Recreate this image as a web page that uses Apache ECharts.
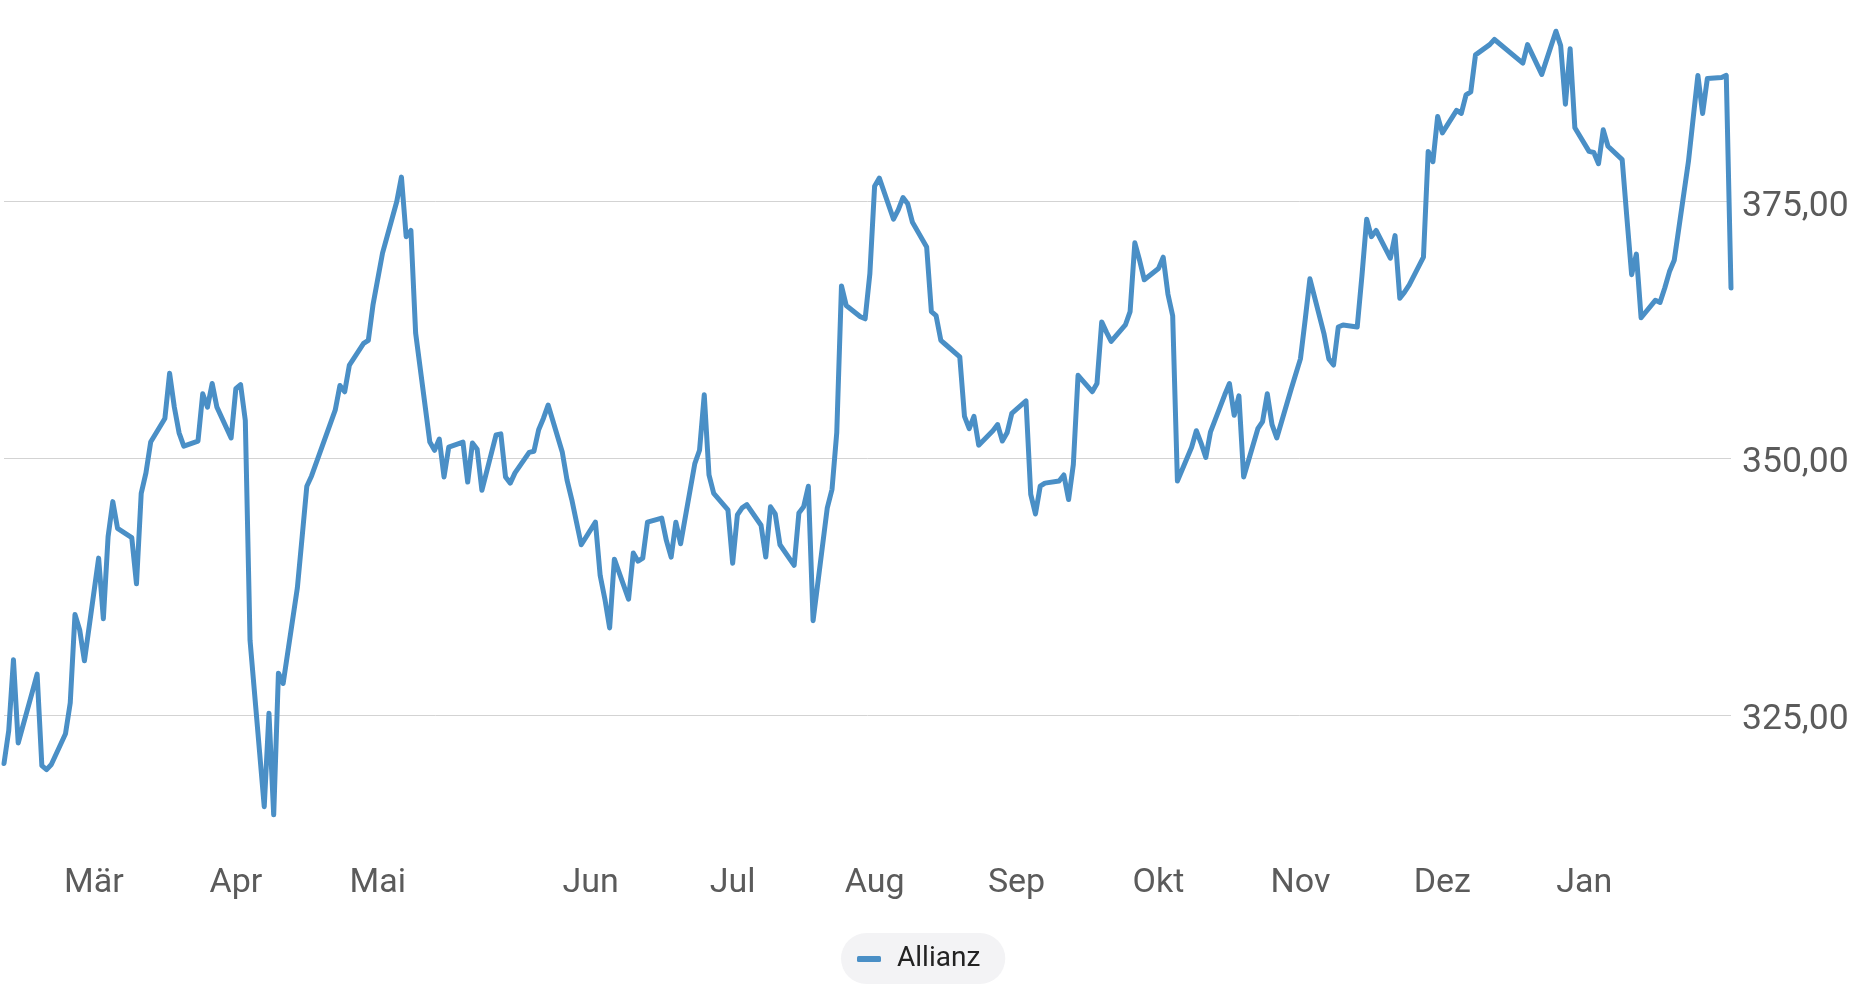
<!DOCTYPE html>
<html>
<head>
<meta charset="utf-8">
<script src="https://cdn.jsdelivr.net/npm/echarts@6/dist/echarts.min.js"></script>
<style>
  html, body { margin: 0; padding: 0; background: #ffffff; overflow: hidden; }
  #chart { width: 1865px; height: 1007px; }
</style>
</head>
<body>
<div id="chart"></div>
<script>
// ---------- DATA ----------
const seriesName = 'Allianz';
const startDate = '2025-02-11';   // first calendar day shown
const endDate = '2026-02-11';     // last calendar day shown
const holidays = ['2025-04-18', '2025-04-21', '2025-05-01', '2025-12-24', '2025-12-25',
                  '2025-12-26', '2025-12-31', '2026-01-01'];

// closing prices, one per trading day (weekdays minus holidays), one row per week
const closes = [
  320.3, 323.5, 330.4, 322.3,
  327.3, 329.0, 320.1, 319.7, 320.2,
  323.2, 326.2, 334.8, 333.3, 330.3,
  340.3, 334.4, 342.4, 345.8, 343.2,
  342.3, 337.8, 346.6, 348.6, 351.6,
  353.9, 358.3, 355.0, 352.5, 351.2,
  351.7, 356.3, 355.0, 357.3, 355.0,
  352.0, 356.8, 357.2, 353.7, 332.3,
  316.1, 325.2, 315.3, 329.1, 328.1,
  337.4, 342.3, 347.3, 348.3,
  354.7, 357.1, 356.5, 359.1,
  361.2, 361.5, 365.0, 370.0,
  375.0, 377.4, 371.6, 372.2, 362.2,
  351.6, 350.8, 351.9, 348.2, 351.1,
  351.6, 347.7, 351.5, 350.9, 346.9,
  352.3, 352.4, 348.2, 347.6, 348.6,
  350.6, 350.7, 352.8, 353.9, 355.2,
  350.6, 347.9, 346.0, 343.8, 341.6,
  343.8, 338.6, 336.3, 333.5, 340.2,
  336.3, 340.8, 340.0, 340.3, 343.8,
  344.2, 342.0, 340.4, 343.8, 341.7,
  349.5, 350.8, 356.2, 348.4, 346.6,
  345.0, 339.8, 344.5, 345.2, 345.5,
  343.5, 340.4, 345.3, 344.6, 341.6,
  339.6, 344.7, 345.3, 347.3, 334.2,
  345.2, 347.0, 352.5, 366.8, 364.9,
  363.8, 363.6, 368.0, 376.5, 377.3,
  373.3, 374.2, 375.4, 374.8, 373.0,
  370.6, 364.3, 363.9, 361.5, 361.1,
  359.9, 354.1, 352.9, 354.1, 351.3,
  352.7, 353.3, 351.7, 352.5, 354.4,
  355.6, 346.5, 344.6, 347.3, 347.6,
  347.8, 348.4, 346.0, 349.4, 358.1,
  356.5, 357.3, 363.3, 362.3, 361.4,
  363.0, 364.3, 371.0, 369.3, 367.4,
  368.5, 369.6, 366.0, 363.9, 347.8,
  351.1, 352.7, 351.5, 350.1, 352.6,
  356.2, 357.3, 354.2, 356.1, 348.2,
  352.9, 353.6, 356.3, 353.3, 352.0,
  356.7, 358.2, 359.7, 363.5, 367.5,
  362.1, 359.7, 359.1, 362.8, 363.0,
  362.8, 367.8, 373.3, 371.6, 372.2,
  369.5, 371.7, 365.6, 366.2, 366.9,
  369.6, 379.9, 378.9, 383.3, 381.7,
  383.9, 383.6, 385.4, 385.7, 389.3,
  390.3, 390.8,
  388.5, 390.3, 387.4,
  391.6, 390.2, 384.5, 389.9, 382.2,
  379.9, 379.8, 378.7, 382.0, 380.4,
  379.1, 373.4, 367.9, 369.9, 363.7,
  365.4, 365.2, 366.6, 368.2, 369.3,
  378.9, 383.1, 387.3, 383.6, 387.0,
  387.1, 387.3, 366.6
];

// x-axis tick labels and the days they sit on
const xTickDates  = ['2025-03-02', '2025-04-01', '2025-05-01', '2025-06-15', '2025-07-15', '2025-08-14',
                     '2025-09-13', '2025-10-13', '2025-11-12', '2025-12-12', '2026-01-11'];
const xTickLabels = ['Mär', 'Apr', 'Mai', 'Jun', 'Jul', 'Aug', 'Sep', 'Okt', 'Nov', 'Dez', 'Jan'];

// y-axis range and tick step
const yMin = 300, yMax = 394, yStep = 25;

// ---------- BUILD ----------
function iso(d) { return d.toISOString().slice(0, 10); }
const calendar = [];
const tradingDays = [];
{
  const s = new Date(startDate + 'T00:00:00Z');
  const e = new Date(endDate + 'T00:00:00Z');
  for (let t = s.getTime(); t <= e.getTime(); t += 86400000) {
    const d = new Date(t);
    const key = iso(d);
    calendar.push(key);
    const wd = d.getUTCDay();
    if (wd !== 0 && wd !== 6 && holidays.indexOf(key) < 0) tradingDays.push(key);
  }
}
if (tradingDays.length !== closes.length) {
  console.warn('length mismatch', tradingDays.length, closes.length);
}
const priceByDay = {};
tradingDays.forEach((k, i) => { if (i < closes.length) priceByDay[k] = closes[i]; });
const lineData = calendar.map(k => (k in priceByDay ? priceByDay[k] : null));

const tickLabelByDate = {};
xTickDates.forEach((k, i) => { tickLabelByDate[k] = xTickLabels[i]; });

const lineColor = '#4a8fc6';
const axisTextColor = '#5b5b5b';
const fontFamily = 'Roboto, "Noto Sans", sans-serif';

const chart = echarts.init(document.getElementById('chart'), null, { renderer: 'canvas' });
chart.setOption({
  animation: false,
  backgroundColor: '#ffffff',
  grid: { left: 4, right: 134, top: 6.6, bottom: 35, containLabel: false },
  xAxis: {
    type: 'category',
    data: calendar,
    boundaryGap: false,
    offset: -114,
    axisLine: { show: false },
    axisTick: { show: false },
    splitLine: { show: false },
    axisLabel: {
      interval: function (idx, value) { return value in tickLabelByDate; },
      formatter: function (value) { return tickLabelByDate[value] || ''; },
      color: axisTextColor,
      fontFamily: fontFamily,
      fontSize: 34,
      margin: 8
    }
  },
  yAxis: {
    type: 'value',
    position: 'right',
    min: yMin,
    max: yMax,
    interval: yStep,
    axisLine: { show: false },
    axisTick: { show: false },
    splitLine: {
      show: true,
      showMinLine: false,
      showMaxLine: false,
      lineStyle: { color: '#d3d3d3', width: 1 }
    },
    axisLabel: {
      showMinLabel: false,
      showMaxLabel: false,
      formatter: function (v) {
        if (v <= yMin || v >= yMax) return '';
        return '{v|' + v.toFixed(2).replace('.', ',') + '}';
      },
      rich: {
        v: {
          color: axisTextColor,
          fontFamily: fontFamily,
          fontSize: 35.5,
          padding: [10, 0, 0, 0]
        }
      },
      color: axisTextColor,
      fontFamily: fontFamily,
      fontSize: 35.5,
      margin: 11
    }
  },
  legend: {
    show: true,
    data: [seriesName],
    left: 841,
    top: 933,
    orient: 'horizontal',
    icon: 'roundRect',
    itemWidth: 24,
    itemHeight: 6,
    padding: [12, 25, 11, 16],
    backgroundColor: '#f3f3f5',
    borderRadius: 26,
    selectedMode: false,
    textStyle: {
      color: '#222222',
      fontFamily: fontFamily,
      fontSize: 28,
      lineHeight: 28,
      padding: [0, 0, 0, 11]
    }
  },
  series: [{
    name: seriesName,
    type: 'line',
    data: lineData,
    connectNulls: true,
    symbol: 'none',
    showSymbol: false,
    smooth: false,
    color: lineColor,
    lineStyle: { color: lineColor, width: 5, join: 'round', cap: 'round' },
    itemStyle: { color: lineColor },
    emphasis: { disabled: true }
  }]
});
</script>
</body>
</html>
